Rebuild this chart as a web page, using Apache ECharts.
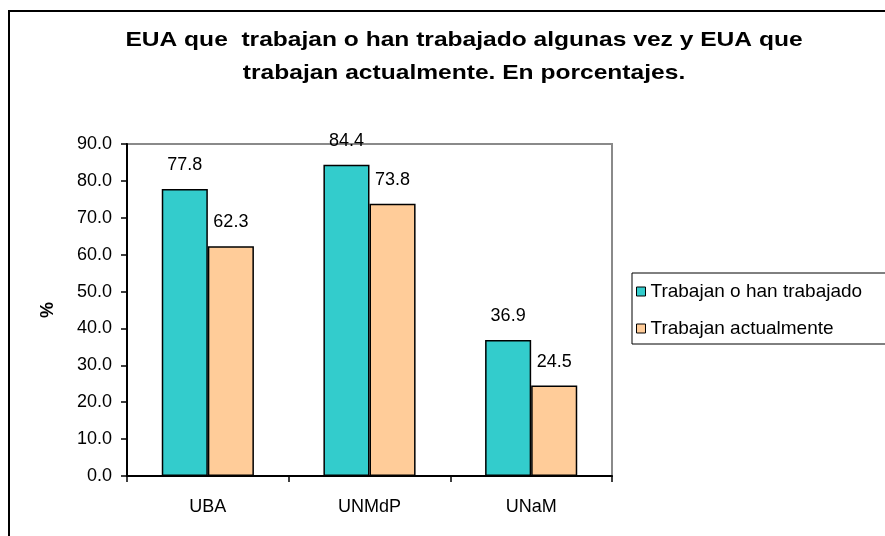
<!DOCTYPE html>
<html>
<head>
<meta charset="utf-8">
<script src="https://cdn.jsdelivr.net/npm/echarts@6/dist/echarts.min.js"></script>
<style>html,body{margin:0;padding:0;background:#fff}#c{width:885px;height:536px}</style>
</head>
<body>
<div id="c"></div>
<script>
var categories = ['UBA', 'UNMdP', 'UNaM'];
var trabajanOHan = [77.8, 84.4, 36.9];
var trabajanActual = [62.3, 73.8, 24.5];
var seriesNames = ['Trabajan o han trabajado', 'Trabajan actualmente'];
var titleText = 'EUA que  trabajan o han trabajado algunas vez y EUA que\ntrabajan actualmente. En porcentajes.';

var FONT = '"Liberation Sans", Arial, sans-serif';
var chart = echarts.init(document.getElementById('c'));
var labelCfg = {
  show: true, position: 'top', distance: 15, color: '#000',
  fontFamily: FONT, fontSize: 18,
  formatter: function (p) { return p.value.toFixed(1); }
};
chart.setOption({
  animation: false,
  backgroundColor: '#fff',
  graphic: [
    { type: 'rect', shape: { x: 9, y: 11, width: 900, height: 540 },
      style: { fill: 'none', stroke: '#000', lineWidth: 2 }, silent: true },
    { type: 'text', x: 464, y: 57, scaleX: 1.17, scaleY: 1,
      style: { text: titleText, x: 0, y: 0, align: 'center', verticalAlign: 'middle',
      font: 'bold 21px "Liberation Sans", Arial, sans-serif', lineHeight: 33, fill: '#000' } }
  ],
  legend: {
    orient: 'vertical', left: 632, top: 273,
    itemWidth: 9, itemHeight: 9, itemGap: 18,
    padding: [9, 45, 6, 4],
    borderColor: '#000', borderWidth: 1,
    icon: 'rect',
    itemStyle: { borderColor: '#000', borderWidth: 1 },
    textStyle: { fontFamily: FONT, fontSize: 19, color: '#000', lineHeight: 19 },
    data: seriesNames
  },
  grid: {
    left: 127, top: 144, right: 273, bottom: 60,
    show: true, borderColor: '#8a8a8a', borderWidth: 2, backgroundColor: '#fff'
  },
  xAxis: {
    type: 'category', data: categories,
    axisLine: { lineStyle: { color: '#000', width: 2 } },
    axisTick: { show: true, length: 6, lineStyle: { color: '#000', width: 1.5 } },
    axisLabel: { color: '#000', fontFamily: FONT, fontSize: 18, margin: 22 },
    splitLine: { show: false }
  },
  yAxis: {
    type: 'value', min: 0, max: 90, interval: 10,
    name: '%', nameLocation: 'middle', nameGap: 70, nameRotate: 90,
    nameTextStyle: { fontFamily: FONT, fontSize: 18, fontWeight: 'bold', color: '#000' },
    axisLine: { show: true, lineStyle: { color: '#000', width: 2 } },
    axisTick: { show: true, length: 6, lineStyle: { color: '#000', width: 1.5 } },
    axisLabel: { color: '#000', fontFamily: FONT, fontSize: 18, margin: 15,
      formatter: function (v) { return v.toFixed(1); } },
    splitLine: { show: false }
  },
  series: [
    { name: seriesNames[0], type: 'bar', data: trabajanOHan, barGap: '0%', barCategoryGap: '43%',
      itemStyle: { color: '#33CCCC', borderColor: '#000', borderWidth: 1.5 }, label: labelCfg },
    { name: seriesNames[1], type: 'bar', data: trabajanActual,
      itemStyle: { color: '#FFCC99', borderColor: '#000', borderWidth: 1.5 }, label: labelCfg }
  ]
});
</script>
</body>
</html>
